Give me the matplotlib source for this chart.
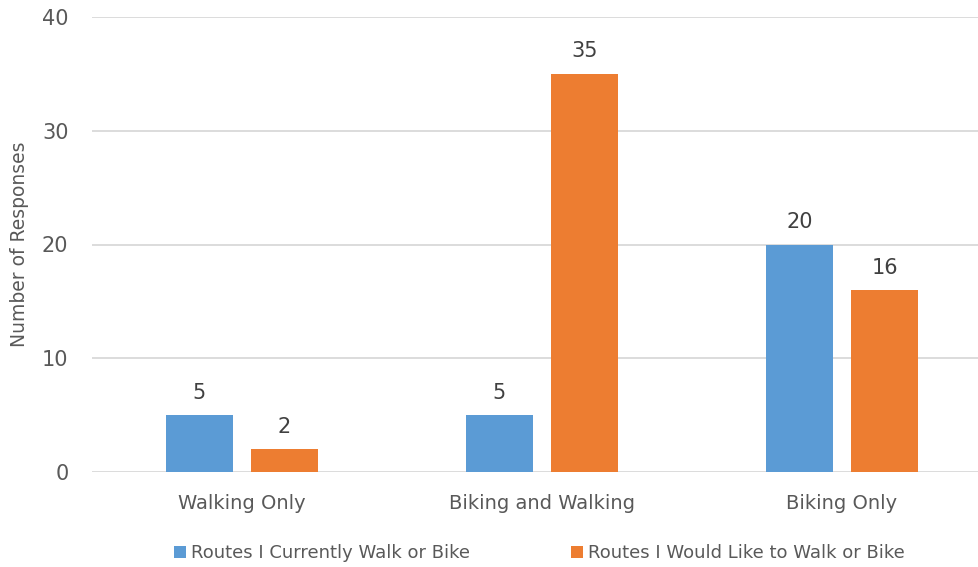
import matplotlib
matplotlib.use("Agg")
import matplotlib.pyplot as plt
import numpy as np

categories = ["Walking Only", "Biking and Walking", "Biking Only"]
current = [5, 5, 20]
would_like = [2, 35, 16]
series_names = ["Routes I Currently Walk or Bike", "Routes I Would Like to Walk or Bike"]
y_ticks = [0, 10, 20, 30, 40]

plt.rcParams["font.family"] = ["DejaVu Sans"]

blue = "#5B9BD5"
orange = "#ED7D31"
grey_txt = "#595959"

fig = plt.figure(figsize=(9.79, 5.67), dpi=100)
ax = fig.add_axes([92 / 979, 95 / 567, 887 / 979, 455 / 567])

x = np.arange(len(categories))
w = 0.223
off = 0.142
b1 = ax.bar(x - off, current, w, color=blue, label=series_names[0], zorder=3)
b2 = ax.bar(x + off, would_like, w, color=orange, label=series_names[1], zorder=3)

for bars in (b1, b2):
    for r in bars:
        ax.annotate(str(int(r.get_height())), (r.get_x() + r.get_width() / 2, r.get_height()),
                    xytext=(0, 9), textcoords="offset points", ha="center", va="bottom",
                    fontsize=15, color="#404040")

ax.set_xlim(-0.5, 2.457)
ax.set_ylim(0, 40)
ax.set_yticks(y_ticks)
ax.set_xticks(x)
ax.set_xticklabels(categories, fontsize=14)
ax.tick_params(axis="both", length=0, labelcolor=grey_txt)
ax.tick_params(axis="y", labelsize=15, pad=17)
ax.tick_params(axis="x", pad=16)
ax.grid(axis="y", color="#D9D9D9", linewidth=1.3, zorder=0)
for s in ax.spines.values():
    s.set_visible(False)

ax.set_ylabel("Number of Responses", fontsize=13.5, color=grey_txt, labelpad=9)

fig.legend(handles=[b1, b2], loc="center left", bbox_to_anchor=(165 / 979, 14 / 567), ncol=2,
           frameon=False, fontsize=13, labelcolor=grey_txt, handlelength=0.65, handleheight=0.65,
           handletextpad=0.3, columnspacing=5.6, borderpad=0)

fig.savefig("out.png", dpi=100)
